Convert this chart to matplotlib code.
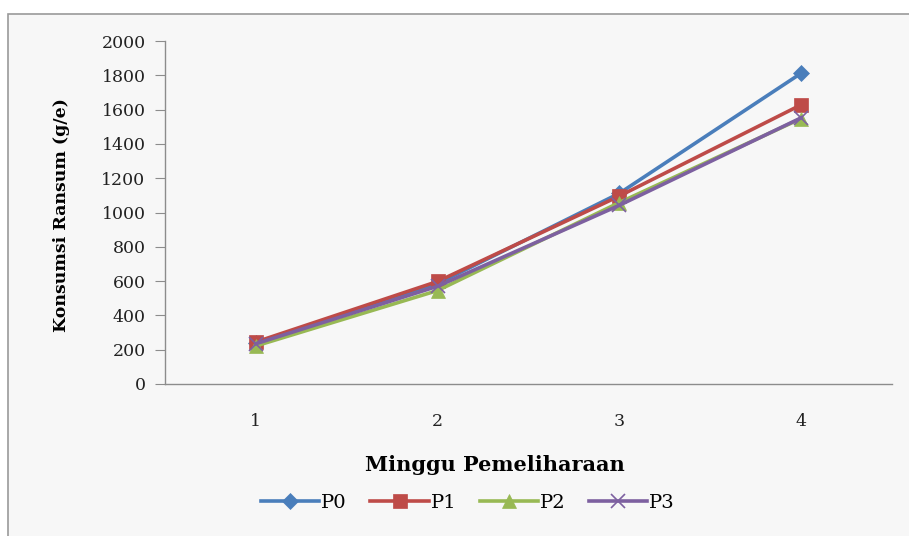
import matplotlib
matplotlib.use("Agg")
import matplotlib.pyplot as plt
from matplotlib.patches import Rectangle

weeks = [1, 2, 3, 4]
p0 = [240, 585, 1112, 1812]
p1 = [245, 598, 1096, 1628]
p2 = [222, 545, 1058, 1548]
p3 = [235, 570, 1042, 1552]

series = [
    ("P0", p0, "#4a7ebb", "D", 8),
    ("P1", p1, "#be4b48", "s", 10),
    ("P2", p2, "#98b954", "^", 10),
    ("P3", p3, "#7d60a0", "x", 10),
]

plt.rcParams["font.family"] = ["DejaVu Serif"]

fig = plt.figure(figsize=(9.09, 5.36), dpi=100, facecolor="white")
fig.patches.append(Rectangle((8 / 909, -0.1), 1.1, 1 - 14 / 536 + 0.1, transform=fig.transFigure,
                             facecolor="#f7f7f7", edgecolor="#9a9a9a", linewidth=1.2, zorder=-10))

ax = fig.add_axes([165 / 909, 1 - 384 / 536, (892 - 165) / 909, (384 - 41) / 536])
ax.set_facecolor("none")

for name, vals, color, marker, ms in series:
    ax.plot(weeks, vals, color=color, linewidth=2.6, marker=marker, markersize=ms,
            markeredgewidth=1.2 if marker == "x" else 0.5, markeredgecolor=color, label=name)

ax.set_xlim(0.5, 4.5)
ax.set_ylim(0, 2000)
ax.set_yticks(range(0, 2001, 200))
ax.set_xticks(weeks)
ax.set_xticklabels([str(w) for w in weeks])

for s in ["top", "right"]:
    ax.spines[s].set_visible(False)
for s in ["left", "bottom"]:
    ax.spines[s].set_color("#8c8c8c")
    ax.spines[s].set_linewidth(1.0)

ax.tick_params(axis="y", direction="out", length=7, color="#8c8c8c", labelsize=12.5, pad=7, labelcolor="#222222")
ax.tick_params(axis="x", length=0, labelsize=12.5, pad=21, labelcolor="#222222")

fig.text(62 / 909, 1 - 215 / 536, "Konsumsi Ransum (g/e)", rotation=90, ha="center", va="center",
         fontsize=12.5, fontweight="bold")
fig.text(495 / 909, 1 - 465 / 536, "Minggu Pemeliharaan", ha="center", va="center",
         fontsize=15, fontweight="bold")

fig.legend(loc="center", bbox_to_anchor=(468 / 909, 1 - 503 / 536), ncol=4, frameon=False,
           fontsize=14, handlelength=3.0, handletextpad=0.1, columnspacing=1.2)

fig.savefig("out.png", dpi=100, facecolor=fig.get_facecolor())
